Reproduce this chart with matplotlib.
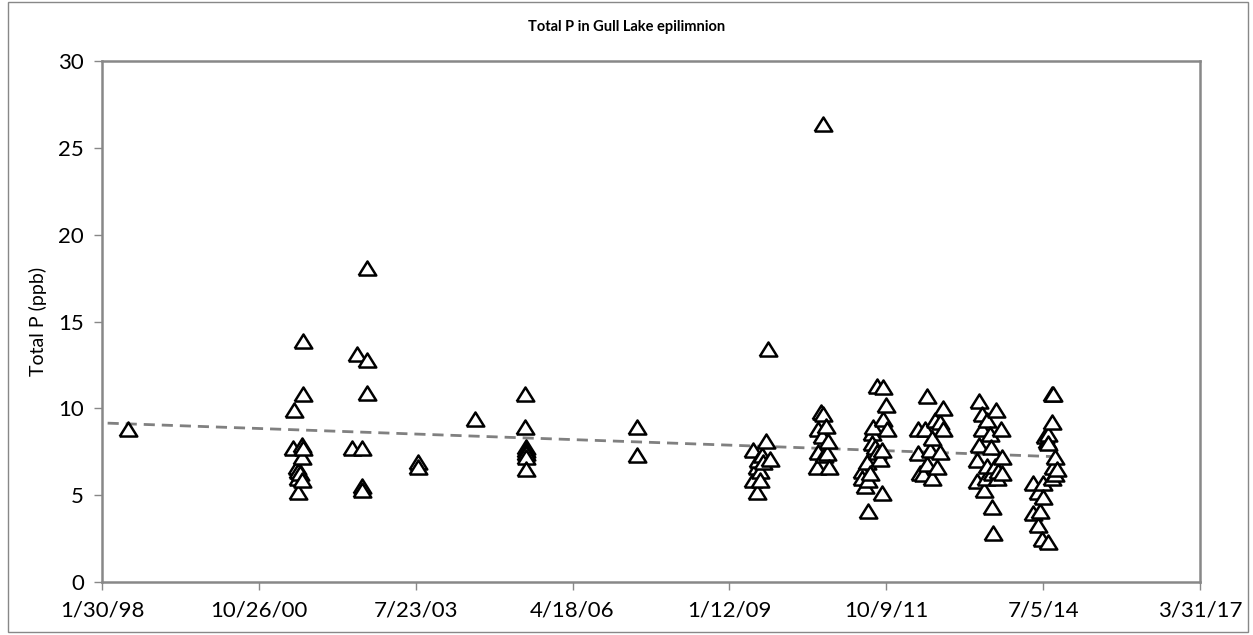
import matplotlib
matplotlib.use("Agg")
import matplotlib.pyplot as plt
import matplotlib.dates as mdates
from matplotlib.patches import Rectangle
import numpy as np
import pandas as pd

plt.rcParams['font.family'] = ['Lato', 'DejaVu Sans']

title = "Total P in Gull Lake epilimnion"
y_label = "Total P (ppb)"

sample_dates = [
    "1998-07-15",
    "2001-05-31", "2001-06-07", "2001-06-26",
    "2001-07-02", "2001-07-02", "2001-07-02", "2001-07-15",
    "2001-07-28", "2001-07-28", "2001-07-28",
    "2001-08-03", "2001-08-03", "2001-08-03",
    "2002-06-12", "2002-07-13", "2002-08-14", "2002-08-14", "2002-08-14",
    "2002-09-15", "2002-09-15", "2002-09-15",
    "2003-08-06", "2003-08-06",
    "2004-08-04",
    "2005-06-18", "2005-06-18",
    "2005-06-25", "2005-06-25", "2005-06-25", "2005-06-25", "2005-06-25",
    "2007-06-02", "2007-06-02",
    "2009-06-10", "2009-06-10", "2009-07-06", "2009-07-06", "2009-07-12",
    "2009-07-25", "2009-07-25", "2009-08-07", "2009-08-13", "2009-09-01",
    "2009-09-14", "2009-09-27",
    "2010-07-23", "2010-07-30", "2010-07-30", "2010-08-18", "2010-08-24",
    "2010-08-30", "2010-08-30", "2010-09-06", "2010-09-19", "2010-09-25",
    "2010-10-01", "2010-10-08",
    "2011-05-06", "2011-05-06", "2011-05-25", "2011-06-07", "2011-06-13",
    "2011-06-13", "2011-06-26", "2011-07-09", "2011-07-09", "2011-07-15",
    "2011-07-28", "2011-08-10", "2011-08-10", "2011-08-29", "2011-09-11",
    "2011-09-11", "2011-09-17", "2011-09-17", "2011-10-06", "2011-10-13",
    "2012-04-27", "2012-04-27", "2012-05-10", "2012-05-29", "2012-06-11",
    "2012-06-24", "2012-06-24", "2012-07-13", "2012-07-25", "2012-07-25",
    "2012-08-14", "2012-08-26", "2012-09-14", "2012-09-14", "2012-10-04",
    "2012-10-04",
    "2013-05-08", "2013-05-08", "2013-05-21", "2013-05-21", "2013-06-09",
    "2013-06-09", "2013-06-22", "2013-07-05", "2013-07-11", "2013-07-11",
    "2013-07-30", "2013-08-06", "2013-08-12", "2013-08-12", "2013-08-18",
    "2013-08-31", "2013-09-06", "2013-09-13", "2013-09-19", "2013-10-08",
    "2013-10-15", "2013-10-15",
    "2014-04-30", "2014-04-30", "2014-06-01", "2014-06-01", "2014-06-14",
    "2014-06-26", "2014-07-03", "2014-07-03", "2014-07-16", "2014-07-28",
    "2014-08-04", "2014-08-04", "2014-08-04", "2014-08-29", "2014-08-29",
    "2014-08-29", "2014-09-05", "2014-09-05", "2014-09-17", "2014-09-17",
    "2014-09-30",
]
total_p = [
    8.8,
    7.7, 9.9, 6.6,
    6.4, 6.0, 5.2, 6.3,
    7.9, 7.2, 5.9,
    13.9, 10.8, 7.7,
    7.7, 13.1, 7.7, 5.5, 5.3,
    18.1, 12.8, 10.9,
    6.9, 6.6,
    9.4,
    10.8, 8.9,
    7.8, 7.6, 7.4, 7.2, 6.5,
    8.9, 7.3,
    7.6, 5.9, 6.6, 5.2, 7.0,
    6.4, 5.9, 7.3, 6.9, 8.1,
    13.4, 7.1,
    6.6, 8.8, 7.5, 9.8, 8.4,
    9.7, 26.4, 7.3, 9.0, 7.4,
    8.1, 6.6,
    6.4, 6.0, 5.5, 6.9, 5.9,
    4.1, 6.3, 8.6, 8.0, 8.9,
    7.8, 11.3, 7.5, 7.1, 7.6,
    5.1, 11.2, 9.4, 10.2, 8.8,
    8.8, 7.4, 6.3, 6.2, 8.8,
    10.7, 6.8, 7.6, 8.3, 6.0,
    9.3, 6.6, 9.2, 7.5, 10.0,
    8.8,
    7.0, 5.8, 10.4, 7.9, 9.7,
    8.8, 5.3, 6.0, 9.3, 6.7,
    8.5, 7.8, 6.3, 4.3, 2.8,
    6.7, 9.9, 6.0, 6.4, 8.8,
    7.2, 6.3,
    5.7, 4.0, 5.2, 3.3, 4.1,
    2.5, 5.7, 4.9, 8.4, 8.1,
    8.5, 8.0, 2.3, 10.8, 9.2,
    6.0, 10.8, 6.6, 7.2, 6.2,
    6.5,
]

tick_dates = ["1998-01-30", "2000-10-26", "2003-07-23", "2006-04-18",
              "2009-01-12", "2011-10-09", "2014-07-05", "2017-03-31"]
tick_labels = ["1/30/98", "10/26/00", "7/23/03", "4/18/06",
               "1/12/09", "10/9/11", "7/5/14", "3/31/17"]

x = mdates.date2num(pd.to_datetime(sample_dates))
y = np.array(total_p)
ticks = mdates.date2num(pd.to_datetime(tick_dates))

fig = plt.figure(figsize=(12.53, 6.35), dpi=100)
ax = fig.add_axes([0.0814, 0.0835, 0.8763, 0.8204])

# open triangle marker, a bit flatter than the built-in one
tri = [(-1, -0.8), (1, -0.8), (0, 0.8), (-1, -0.8)]
ax.scatter(x, y, marker=tri, s=160, facecolor='white', edgecolor='black',
           linewidth=1.8, zorder=3)

# linear trendline
slope, icpt = np.polyfit(x, y, 1)
xl = np.array([x.min() - 130, x.max()])
ax.plot(xl, slope * xl + icpt, color='#808080', linestyle=(0, (4, 2.5)),
        linewidth=2, zorder=2)

ax.set_xlim(ticks[0], ticks[-1])
ax.set_ylim(0, 30)
ax.set_xticks(ticks)
ax.set_xticklabels(tick_labels)
ax.set_yticks(np.arange(0, 31, 5))
ax.tick_params(axis='both', labelsize=16, color='#888888', length=6,
               width=1, pad=7)
for s in ax.spines.values():
    s.set_color('#888888')
    s.set_linewidth(1.8)

ax.set_ylabel(y_label, fontsize=14, labelpad=8)
fig.text(0.5, 0.957, title, fontsize=10.5, fontweight='bold',
         ha='center', va='center')

fig.patches.append(Rectangle((0.006, 0.004), 0.99, 0.993, transform=fig.transFigure,
                             fill=False, edgecolor='#888888', linewidth=1))

fig.savefig("out.png", dpi=100)
